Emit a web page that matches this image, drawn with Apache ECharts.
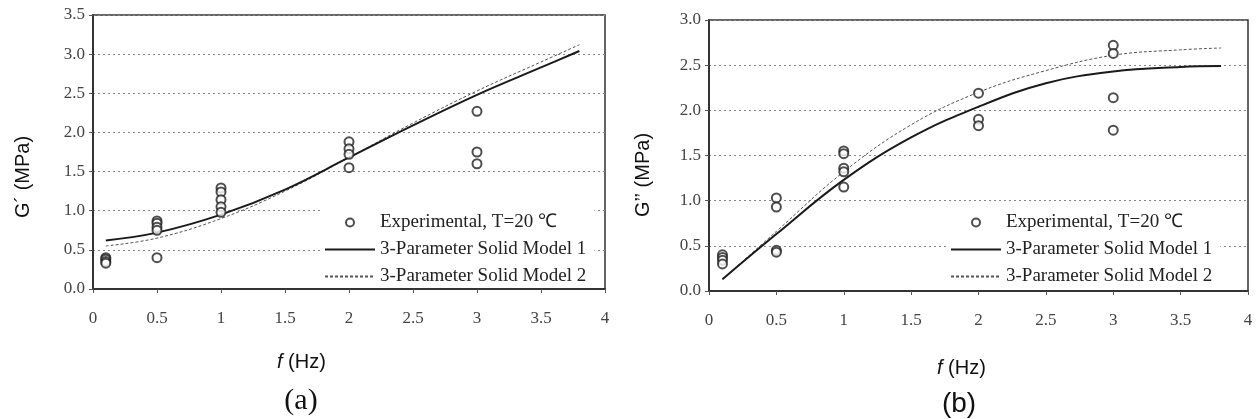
<!DOCTYPE html>
<html>
<head>
<meta charset="utf-8">
<script src="https://cdn.jsdelivr.net/npm/echarts@6/dist/echarts.min.js"></script>
<style>html,body{margin:0;padding:0;background:#fff}#c{width:1256px;height:419px}</style>
</head>
<body>
<div id="c"></div>
<script>
// ---- Data ----
var xTicks = [0, 0.5, 1, 1.5, 2, 2.5, 3, 3.5, 4];
var legendNames = ['Experimental, T=20 \u2103', '3-Parameter Solid Model 1', '3-Parameter Solid Model 2'];

// (a) storage modulus G'
var expA = [
  [0.1, 0.40], [0.1, 0.38], [0.1, 0.35], [0.1, 0.33],
  [0.5, 0.87], [0.5, 0.84], [0.5, 0.79], [0.5, 0.75], [0.5, 0.40],
  [1, 1.29], [1, 1.24], [1, 1.14], [1, 1.05], [1, 0.98],
  [2, 1.88], [2, 1.79], [2, 1.72], [2, 1.55],
  [3, 2.27], [3, 1.75], [3, 1.60]
];
var model1A = [[0.1, 0.62], [0.5, 0.72], [1.0, 0.95], [1.5, 1.27], [2.0, 1.68], [2.5, 2.09], [3.0, 2.48], [3.5, 2.83], [3.8, 3.04]];
var model2A = [[0.1, 0.55], [0.5, 0.65], [1.0, 0.90], [1.5, 1.25], [2.0, 1.68], [2.5, 2.12], [3.0, 2.53], [3.5, 2.90], [3.8, 3.12]];

// (b) loss modulus G''
var expB = [
  [0.1, 0.40], [0.1, 0.37], [0.1, 0.34], [0.1, 0.30],
  [0.5, 1.03], [0.5, 0.93], [0.5, 0.45], [0.5, 0.43],
  [1, 1.55], [1, 1.52], [1, 1.36], [1, 1.32], [1, 1.15],
  [2, 2.19], [2, 1.90], [2, 1.83],
  [3, 2.72], [3, 2.63], [3, 2.14], [3, 1.78]
];
var model1B = [[0.1, 0.13], [0.5, 0.63], [1.0, 1.23], [1.5, 1.70], [2.0, 2.04], [2.5, 2.30], [3.0, 2.43], [3.5, 2.48], [3.8, 2.49]];
var model2B = [[0.1, 0.13], [0.5, 0.66], [1.0, 1.32], [1.5, 1.84], [2.0, 2.20], [2.5, 2.44], [3.0, 2.61], [3.5, 2.67], [3.8, 2.69]];

// ---- Chart ----
var serif = '"Liberation Serif", "Times New Roman", serif';
var sans = '"Liberation Sans", Arial, sans-serif';
var chart = echarts.init(document.getElementById('c'), null, {renderer: 'canvas'});

function xAxisCfg(gi) {
  return {
    type: 'value', gridIndex: gi, min: xTicks[0], max: xTicks[xTicks.length - 1], interval: 0.5,
    axisLine: {show: true, onZero: false, lineStyle: {color: '#333', width: 2}},
    axisTick: {show: true, inside: false, length: 4, lineStyle: {color: '#555', width: 1}},
    axisLabel: {color: '#444', fontFamily: serif, fontSize: 17, margin: 21},
    splitLine: {show: false}
  };
}
function yAxisCfg(gi, max) {
  return {
    type: 'value', gridIndex: gi, min: 0, max: max, interval: 0.5,
    axisLine: {show: true, lineStyle: {color: '#333', width: 2}},
    axisTick: {show: true, inside: false, length: 4, lineStyle: {color: '#555', width: 1}},
    axisLabel: {color: '#444', fontFamily: serif, fontSize: 17, margin: 8,
      formatter: function (v) { return v.toFixed(1); }},
    splitLine: {show: true, lineStyle: {color: '#888', type: [2, 3], width: 1}}
  };
}
function seriesSet(gi, exp, m1, m2) {
  return [
    {name: legendNames[0], type: 'scatter', xAxisIndex: gi, yAxisIndex: gi, data: exp,
      symbol: 'emptyCircle', symbolSize: 9,
      itemStyle: {color: '#222', borderWidth: 1.6}, z: 5},
    {name: legendNames[1], type: 'line', xAxisIndex: gi, yAxisIndex: gi, data: m1, smooth: 0.4,
      symbol: 'none', lineStyle: {color: '#1a1a1a', width: 2}, itemStyle: {color: '#1a1a1a'}, z: 4},
    {name: legendNames[2], type: 'line', xAxisIndex: gi, yAxisIndex: gi, data: m2, smooth: 0.4,
      symbol: 'none', lineStyle: {color: '#555', width: 1, type: [3, 2]}, itemStyle: {color: '#555'}, z: 3}
  ];
}
var clear = {color: 'rgba(0,0,0,0)', borderColor: 'rgba(0,0,0,0)', borderWidth: 0, opacity: 0};
function legendCfg(left, top, w) {
  return {
    orient: 'vertical', left: left, top: top, width: w,
    backgroundColor: '#fff', padding: [6, 8, 0, 4], itemGap: 8,
    itemWidth: 50, itemHeight: 8,
    textStyle: {fontFamily: serif, fontSize: 19, color: '#222'},
    data: [
      {name: legendNames[0], icon: 'emptyCircle', itemStyle: {color: '#222', borderColor: '#222', borderWidth: 1.6}},
      {name: legendNames[1], itemStyle: clear},
      {name: legendNames[2], itemStyle: clear}
    ],
    selectedMode: false
  };
}

var option = {
  backgroundColor: '#fff',
  animation: false,
  grid: [
    {left: 93, right: 651, top: 15, bottom: 130, show: true, borderColor: '#333', borderWidth: 1.5, backgroundColor: 'transparent'},
    {left: 709, right: 8, top: 20, bottom: 128, show: true, borderColor: '#333', borderWidth: 1.5, backgroundColor: 'transparent'}
  ],
  xAxis: [xAxisCfg(0), xAxisCfg(1)],
  yAxis: [yAxisCfg(0, 3.5), yAxisCfg(1, 3.0)],
  legend: [legendCfg(320, 207, 280), legendCfg(946, 207, 280)],
  series: seriesSet(0, expA, model1A, model2A).concat(seriesSet(1, expB, model1B, model2B)),
  graphic: [
    {type: 'text', x: 23, y: 177, rotation: Math.PI / 2,
      style: {text: 'G\u00B4 (MPa)', font: '20px ' + sans, fill: '#111', textAlign: 'center', textVerticalAlign: 'middle'}},
    {type: 'text', x: 643, y: 175, rotation: Math.PI / 2,
      style: {text: 'G\u2019\u2019 (MPa)', font: '20px ' + sans, fill: '#111', textAlign: 'center', textVerticalAlign: 'middle'}},
    {type: 'text', x: 277, y: 362,
      style: {text: '{i|f} (Hz)', font: '20px ' + sans, fill: '#111', textVerticalAlign: 'middle',
        rich: {i: {fontStyle: 'italic', fontFamily: sans, fontSize: 20, fill: '#111'}}}},
    {type: 'text', x: 937, y: 368,
      style: {text: '{i|f} (Hz)', font: '20px ' + sans, fill: '#111', textVerticalAlign: 'middle',
        rich: {i: {fontStyle: 'italic', fontFamily: sans, fontSize: 20, fill: '#111'}}}},
    {type: 'text', x: 301, y: 401,
      style: {text: '(a)', font: '30px ' + serif, fill: '#111', textAlign: 'center', textVerticalAlign: 'middle'}},
    {type: 'text', x: 959, y: 404,
      style: {text: '(b)', font: '28px ' + sans, fill: '#111', textAlign: 'center', textVerticalAlign: 'middle'}}
  ]
};
chart.setOption(option);
</script>
</body>
</html>
